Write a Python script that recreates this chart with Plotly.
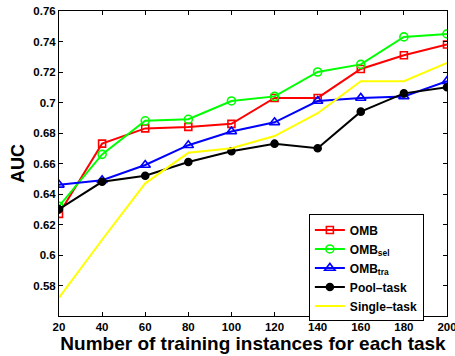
import plotly.graph_objects as go

x_vals = [20, 40, 60, 80, 100, 120, 140, 160, 180, 200]
omb = [0.627, 0.673, 0.683, 0.684, 0.686, 0.703, 0.703, 0.722, 0.731, 0.738]
omb_sel = [0.632, 0.666, 0.688, 0.689, 0.701, 0.704, 0.720, 0.725, 0.743, 0.745]
omb_tra = [0.646, 0.649, 0.659, 0.672, 0.681, 0.687, 0.701, 0.703, 0.704, 0.714]
pool_task = [0.630, 0.648, 0.652, 0.661, 0.668, 0.673, 0.670, 0.694, 0.706, 0.710]
single_task = [0.572, 0.610, 0.647, 0.667, 0.670, 0.678, 0.693, 0.714, 0.714, 0.726]

y_ticks = [0.58, 0.60, 0.62, 0.64, 0.66, 0.68, 0.70, 0.72, 0.74, 0.76]
y_tick_text = ["0.58", "0.6", "0.62", "0.64", "0.66", "0.68", "0.7", "0.72", "0.74", "0.76"]

FONT = "Liberation Sans"

series = [
    ("<b>OMB</b>", omb, "#ff0000", "square-open", 7),
    ("<b>OMB<sub>sel</sub></b>", omb_sel, "#00ff00", "circle-open", 8),
    ("<b>OMB<sub>tra</sub></b>", omb_tra, "#0000ff", "triangle-up-open", 9),
    ("<b>Pool\u2013task</b>", pool_task, "#000000", "circle", 7),
    ("<b>Single\u2013task</b>", single_task, "#ffff00", None, 0),
]

fig = go.Figure()
for name, vals, color, sym, size in series:
    if sym:
        fig.add_trace(go.Scatter(
            x=x_vals, y=vals, name=name, mode="lines+markers",
            line=dict(color=color, width=2),
            marker=dict(symbol=sym, size=size, color=color, line=dict(color=color, width=1.6)),
        ))
    else:
        fig.add_trace(go.Scatter(
            x=x_vals, y=vals, name=name, mode="lines",
            line=dict(color=color, width=2),
        ))

fig.update_layout(
    width=455, height=356,
    margin=dict(l=59, r=8, t=11, b=40),
    paper_bgcolor="white", plot_bgcolor="white",
    font=dict(family=FONT, color="black", size=11.5),
    showlegend=True,
    legend=dict(
        x=0.644, y=0.333, xanchor="left", yanchor="top",
        bordercolor="black", borderwidth=1, bgcolor="white",
        font=dict(family=FONT, size=12, color="black"),
        tracegroupgap=0, itemwidth=30,
    ),
    xaxis=dict(
        range=[20, 200], tickvals=x_vals,
        ticktext=["<b>%d</b>" % v for v in x_vals],
        ticks="inside", ticklen=4, tickcolor="black",
        showline=True, linecolor="black", linewidth=1, mirror="ticks",
        showgrid=False, zeroline=False, automargin=False,
        ticklabeloverflow="allow",
        title=dict(text="<b>Number of training instances for each task</b>",
                   font=dict(family=FONT, size=19), standoff=2),
        tickfont=dict(family=FONT, size=11.5),
    ),
    yaxis=dict(
        range=[0.56, 0.76], tickvals=y_ticks,
        ticktext=["<b>%s</b>" % t for t in y_tick_text],
        ticks="inside", ticklen=4, tickcolor="black",
        showline=True, linecolor="black", linewidth=1, mirror="ticks",
        showgrid=False, zeroline=False, automargin=False,
        ticklabeloverflow="allow",
        title=dict(text="<b>AUC</b>", font=dict(family=FONT, size=18), standoff=4),
        tickfont=dict(family=FONT, size=11.5),
    ),
)

fig.write_html("out.html", config={"displayModeBar": False},
               post_script="document.body.style.margin='0';")
